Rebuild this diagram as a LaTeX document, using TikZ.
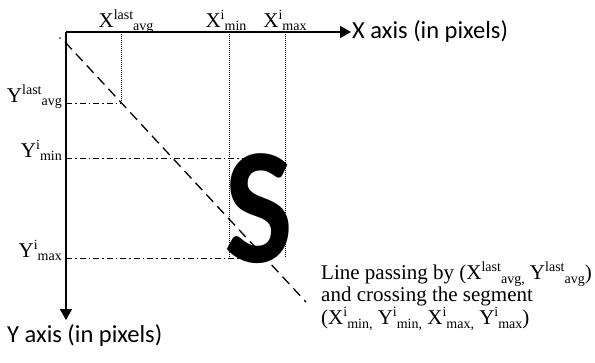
\documentclass[tikz,border=0pt]{standalone}
\usepackage{fontspec}
\setmainfont{Liberation Serif}
\newfontfamily\calibri{Carlito}
\usetikzlibrary{arrows.meta}
\newcommand{\hi}[1]{\raisebox{.36em}{\fontsize{14}{14}\selectfont #1}}
\newcommand{\lo}[1]{\raisebox{-.18em}{\fontsize{14}{14}\selectfont #1}}

\begin{document}
\begin{tikzpicture}[x=1pt,y=-1pt,
  axis/.style={line width=1.6pt,-{Triangle[length=11pt,width=12pt]}},
  guide/.style={line width=0.9pt,dash pattern=on 1pt off 1pt},
  level/.style={line width=1pt,dash pattern=on 6pt off 3pt on 1.5pt off 3pt},
  track/.style={line width=1.3pt,dash pattern=on 10pt off 6pt},
  serif/.style={font=\fontsize{21}{22.5}\selectfont,inner sep=1pt},
  sans/.style={font=\calibri\fontsize{24.5}{26}\selectfont,inner sep=1pt}]
\useasboundingbox (0,0) rectangle (595,362);

% axes
\coordinate (O) at (66,32);
\coordinate (ytip) at (66,320);
\node[sans,anchor=west] (xlab) at (351,32) {X axis (in pixels)};
\node[sans,anchor=north west] (ylab) at (6,323) {Y axis (in pixels)};
\draw[axis] (O) -- (xlab.west);
\draw[axis] (O) -- (ytip);

% reference points
\coordinate (P) at (121,103);
\coordinate (xa) at (121,32);
\coordinate (xmin) at (229,32);
\coordinate (xmax) at (285,32);
\coordinate (ymin) at (66,158);
\coordinate (ymax) at (66,258);

\node[serif,anchor=base] (lxa) at (126,27) {X\hi{last}\lo{avg}};
\node[serif,anchor=base] (lxmin) at (226,27) {X\hi{i}\lo{min}};
\node[serif,anchor=base] (lxmax) at (285,27) {X\hi{i}\lo{max}};
\node[serif,anchor=base east] (lya) at (63,102) {Y\hi{last}\lo{avg}};
\node[serif,anchor=base east] (lymin) at (63,157) {Y\hi{i}\lo{min}};
\node[serif,anchor=base east] (lymax) at (63,257) {Y\hi{i}\lo{max}};

\draw[guide] (xa) -- (P);
\draw[guide] (xmin) -- (xmin |- ymax);
\draw[guide] (xmax) -- (xmax |- ymax);
\draw[level] (O |- P) -- (P);
\draw[level] (ymin) -- ++(183,0);
\draw[level] (ymax) -- ++(176,0);

% line through the last average point
\coordinate (start) at (65,42);
\coordinate (stop) at (306,302);
\fill (60,38) circle (0.8);
\draw[track] (start) -- (stop);

\node[font=\calibri\bfseries\fontsize{166}{166}\selectfont,inner sep=0pt] (S) at (259,209) {\scalebox{0.88}[1]{S}};

\node[serif,anchor=north west,align=left] (txt) at (320,261)
  {Line passing by (X\hi{last}\lo{avg,} Y\hi{last}\lo{avg})\\
   and crossing the segment\\
   (X\hi{i}\lo{min,} Y\hi{i}\lo{min,} X\hi{i}\lo{max,} Y\hi{i}\lo{max})};
\end{tikzpicture}
\end{document}
